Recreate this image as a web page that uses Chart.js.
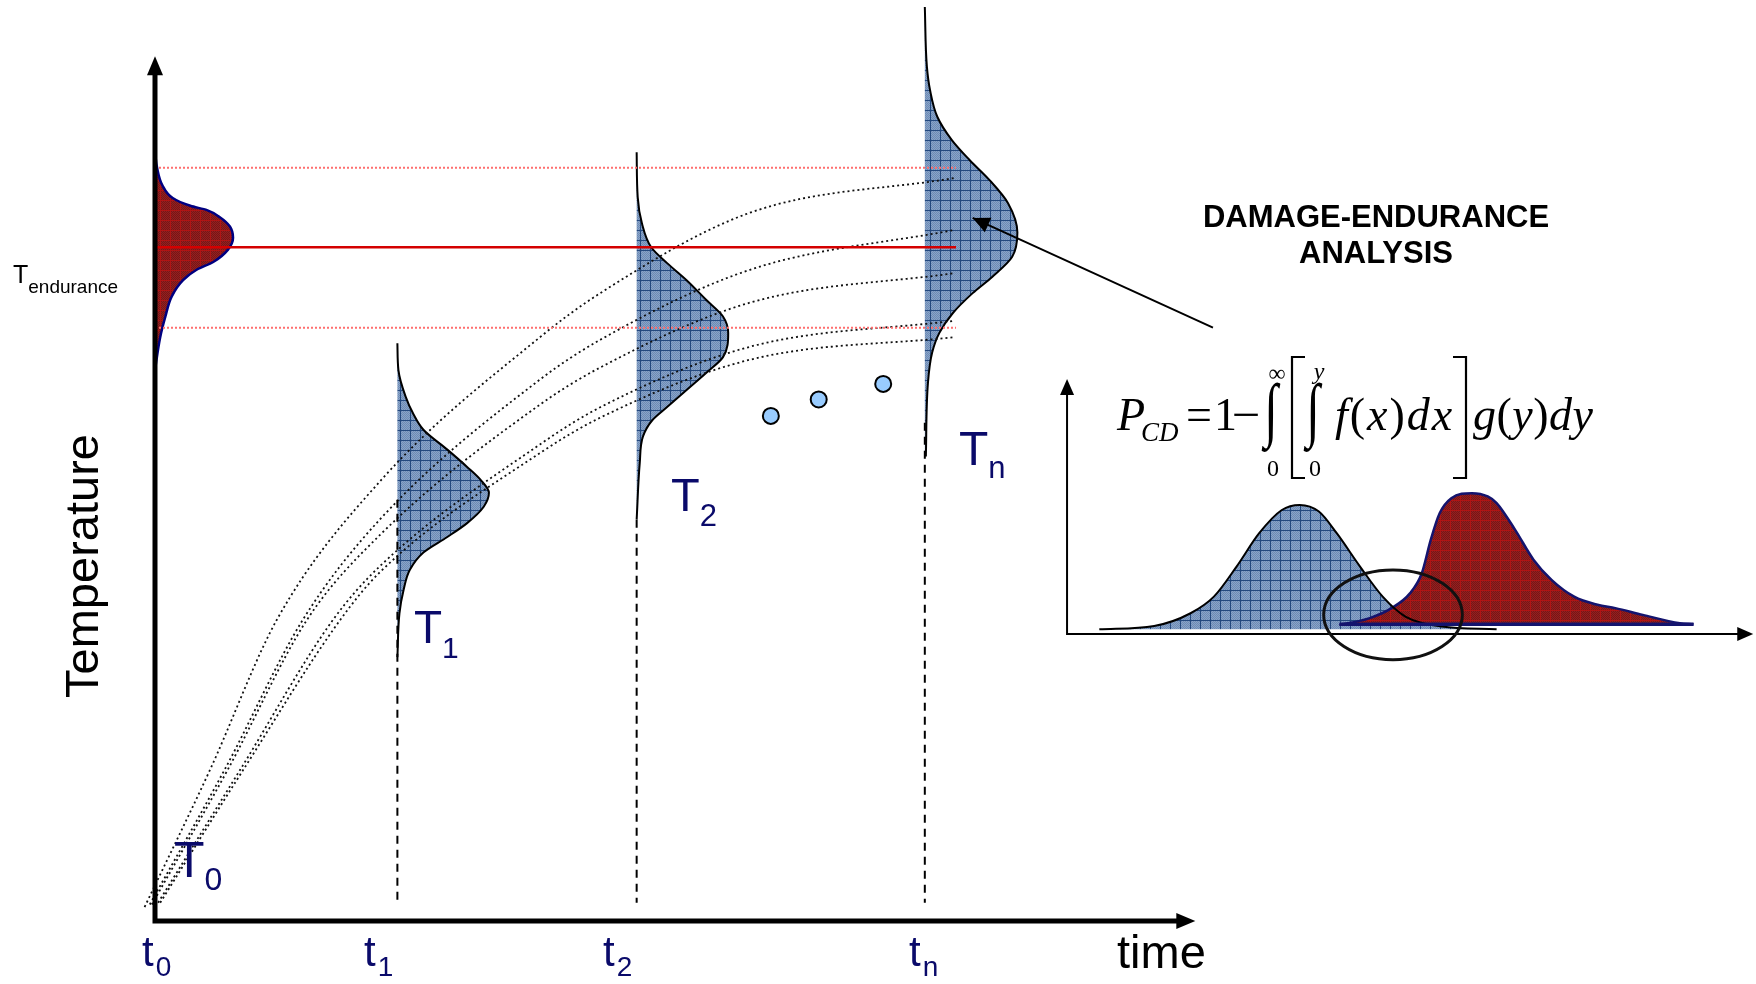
<!DOCTYPE html>
<html>
<head>
<meta charset="utf-8">
<title>Damage-endurance analysis</title>
<script src="https://cdn.jsdelivr.net/npm/chart.js@4.4.1/dist/chart.umd.min.js"></script>
<style>
  html, body { margin: 0; padding: 0; background: #ffffff; }
  #diagram { display: block; }
</style>
</head>
<body>
<canvas id="diagram" width="1756" height="984"></canvas>
<script>
// Main diagram units: time 0 = t0, 100 = arrow tip; temperature 0 = origin, 100 = arrow tip
const timeSubs = ["0", "1", "2", "n"];
const timeMarks = [0, 23.3, 46.3, 74.0];
const dropTops = [48.7, 46.4, 57.6];
const dropBottom = 2.1;

// Endurance distribution drawn on the temperature axis
const enduranceTemps = [88.9, 87.1, 85.1, 83.6, 82.7, 82.2, 81.4, 80.3, 79.0, 77.6, 76.2, 75.3, 74.1, 72.2, 69.9, 67.5, 63.7];
const enduranceSpread = [0, 0.2, 0.7, 1.7, 3.4, 5.0, 6.2, 7.2, 7.5, 7.0, 5.6, 4.0, 2.7, 1.6, 1.0, 0.5, 0];
const enduranceMean = 77.9;
const enduranceLimits = [87.1, 68.6];
const limitEnd = 77;

// Temperature distributions at t1, t2, tn
const t1Temps = [66.8, 63.7, 60.6, 58.7, 56.8, 54.5, 52.5, 51.0, 49.5, 47.9, 46.0, 44.4, 42.6, 40.6, 38.3, 35.6, 30.5];
const t1Spread = [0, 0.1, 0.8, 1.5, 2.5, 4.8, 6.7, 8.0, 8.8, 8.3, 6.7, 4.8, 2.5, 1.2, 0.6, 0.2, 0];
const t2Temps = [88.9, 83.7, 80.7, 77.9, 76.1, 74.1, 71.8, 69.9, 68.0, 65.2, 63.4, 61.4, 59.4, 57.9, 56.0, 53.0, 46.4];
const t2Spread = [0, 0.1, 0.5, 1.4, 2.9, 4.8, 6.7, 8.3, 8.8, 8.3, 6.7, 4.8, 2.9, 1.5, 0.6, 0.3, 0];
const tnTemps = [105.7, 98.8, 96.1, 93.0, 90.3, 88.0, 85.7, 83.0, 79.6, 76.8, 74.5, 72.6, 70.3, 68.0, 65.7, 62.2, 53.7];
const tnSpread = [0, 0.2, 0.5, 1.2, 2.6, 4.3, 6.2, 8.0, 8.9, 8.4, 6.5, 4.6, 2.7, 1.4, 0.7, 0.3, 0.1];

// Heating paths (dotted)
const pathTimes = [
  [-1.0, 5.3, 11.7, 21.6, 37.0, 42.8, 57.2, 76.8],
  [-0.5, 6.7, 14.2, 21.6, 37.0, 42.8, 57.2, 76.8],
  [-0.3, 7.0, 14.6, 21.6, 37.0, 42.8, 57.2, 76.8],
  [0.3, 8.2, 17.1, 21.6, 37.0, 42.8, 57.2, 76.8],
  [0.5, 8.5, 17.8, 21.6, 37.0, 42.8, 57.2, 76.8]
];
const pathTemps = [
  [1.6, 17.5, 34.8, 50.8, 67.5, 72.6, 81.9, 85.9],
  [1.9, 17.5, 34.8, 46.4, 62.6, 67.2, 75.3, 79.9],
  [1.9, 17.5, 34.8, 44.6, 59.7, 64.0, 71.5, 74.9],
  [2.1, 17.5, 34.8, 41.0, 55.1, 59.4, 66.4, 69.4],
  [2.1, 17.5, 34.8, 40.3, 54.1, 58.2, 64.9, 67.5]
];

// "..." dots between t2 and tn
const dotTimes = [59.2, 63.8, 70.0];
const dotTemps = [58.4, 60.3, 62.1];

// pointer from the inset to Tn
const pointerTimes = [101.7, 78.6];
const pointerTemps = [68.6, 81.3];

// Inset: damage (blue) and endurance (red) densities, 0..100 on both axes
const damageX = [4.7, 12.7, 18.0, 21.4, 24.7, 28.0, 31.3, 33.9, 36.7, 39.3, 42.7, 46.0, 49.3, 54.6, 62.6];
const damageY = [1.8, 3.1, 8.1, 14.6, 26.4, 39.5, 48.6, 50.6, 48.0, 39.5, 26.4, 14.6, 6.8, 2.9, 1.8];
const enduranceX = [39.7, 44.0, 47.3, 50.0, 51.7, 53.0, 54.3, 56.0, 59.0, 61.3, 62.6, 65.3, 68.0, 70.6, 73.9, 77.3, 79.9, 83.9, 89.3, 91.3];
const enduranceY = [3.5, 6.1, 10.1, 16.0, 23.8, 36.9, 47.3, 53.2, 55.2, 53.9, 51.3, 40.8, 29.0, 21.2, 14.6, 11.4, 10.1, 7.45, 4.2, 3.8];
const damageBase = 1.8;
const enduranceBase = 3.8;
const overlapCenter = [47.5, 7.5];
const overlapRadius = [10.1, 17.6];

const SANS = '"Liberation Sans", Arial, sans-serif';
const SERIF = '"Liberation Serif", "Times New Roman", serif';
const NAVY = '#0a0a6a';

const canvas = document.getElementById('diagram');
const ctx = canvas.getContext('2d');

// cross-hatched fill like the original (grid over a fine checker)
function makePattern(bg, dot, line) {
  const tile = document.createElement('canvas');
  tile.width = 10;
  tile.height = 10;
  const c = tile.getContext('2d');
  c.fillStyle = bg;
  c.fillRect(0, 0, 10, 10);
  c.fillStyle = dot;
  for (let i = 0; i < 10; i++) {
    for (let j = 0; j < 10; j++) {
      if ((i + j) % 2 === 0) c.fillRect(i, j, 1, 1);
    }
  }
  c.fillStyle = line;
  c.fillRect(0, 0, 10, 1);
  c.fillRect(0, 0, 1, 10);
  return ctx.createPattern(tile, 'repeat');
}
const bluePattern = makePattern('#8aa4c8', '#6d8bb5', '#24497f');
const redPattern = makePattern('#902222', '#7a1414', '#b01414');

function sideways(base, temps, spread) {
  return temps.map((T, i) => ({ x: base + spread[i], y: T }));
}
function zip(xs, ys) {
  return xs.map((v, i) => ({ x: v, y: ys[i] }));
}

const datasets = [];

// distributions standing on their time lines
const dists = [
  { base: 0, temps: enduranceTemps, spread: enduranceSpread, fillStyle: redPattern, edge: '#000080', width: 2.5 },
  { base: timeMarks[1], temps: t1Temps, spread: t1Spread, fillStyle: bluePattern, edge: '#000000', width: 2 },
  { base: timeMarks[2], temps: t2Temps, spread: t2Spread, fillStyle: bluePattern, edge: '#000000', width: 2 },
  { base: timeMarks[3], temps: tnTemps, spread: tnSpread, fillStyle: bluePattern, edge: '#000000', width: 2 }
];
dists.forEach(d => {
  const pts = sideways(d.base, d.temps, d.spread);
  datasets.push({
    data: pts,
    indexAxis: 'y',
    borderWidth: 0,
    backgroundColor: d.fillStyle,
    fill: { value: d.base },
    cubicInterpolationMode: 'monotone',
    order: 6
  });
  datasets.push({
    data: pts,
    indexAxis: 'y',
    borderColor: d.edge,
    borderWidth: d.width,
    fill: false,
    cubicInterpolationMode: 'monotone',
    order: 3
  });
});

// dashed drop lines to t1, t2, tn
dropTops.forEach((top, i) => {
  const t = timeMarks[i + 1];
  datasets.push({
    data: [{ x: t, y: top }, { x: t, y: dropBottom }],
    borderColor: '#000',
    borderWidth: 2,
    borderDash: [8, 6],
    fill: false,
    order: 2
  });
});

// endurance mean and limits
datasets.push({
  data: [{ x: 0, y: enduranceMean }, { x: limitEnd, y: enduranceMean }],
  borderColor: '#d40000', borderWidth: 2.5, fill: false, order: 2
});
enduranceLimits.forEach(v => {
  datasets.push({
    data: [{ x: 0, y: v }, { x: limitEnd, y: v }],
    borderColor: '#ff6f6f', borderWidth: 2, borderDash: [2, 2], fill: false, order: 2
  });
});

// heating paths
pathTimes.forEach((xs, i) => {
  datasets.push({
    data: zip(xs, pathTemps[i]),
    borderColor: '#111',
    borderWidth: 1.8,
    borderDash: [2, 3],
    fill: false,
    cubicInterpolationMode: 'monotone',
    order: 2
  });
});

// dots
datasets.push({
  data: zip(dotTimes, dotTemps),
  showLine: false,
  pointRadius: 8,
  pointBackgroundColor: '#99ccff',
  pointBorderColor: '#000',
  pointBorderWidth: 2,
  order: 1
});

// pointer
datasets.push({
  data: zip(pointerTimes, pointerTemps),
  borderColor: '#000', borderWidth: 2, fill: false, order: 1
});

// inset densities
datasets.push({
  data: zip(damageX, damageY), xAxisID: 'xi', yAxisID: 'yi',
  borderWidth: 0, backgroundColor: bluePattern, fill: { value: damageBase },
  cubicInterpolationMode: 'monotone', order: 6
});
datasets.push({
  data: zip(enduranceX, enduranceY), xAxisID: 'xi', yAxisID: 'yi',
  borderColor: '#14146e', borderWidth: 2.5, backgroundColor: redPattern, fill: { value: enduranceBase },
  cubicInterpolationMode: 'monotone', order: 5
});
datasets.push({
  data: zip(damageX, damageY), xAxisID: 'xi', yAxisID: 'yi',
  borderColor: '#000', borderWidth: 2, fill: false,
  cubicInterpolationMode: 'monotone', order: 3
});
datasets.push({
  data: [{ x: enduranceX[0], y: enduranceBase }, { x: enduranceX[enduranceX.length - 1], y: enduranceBase }],
  xAxisID: 'xi', yAxisID: 'yi',
  borderColor: '#14146e', borderWidth: 3.5, fill: false, order: 2
});

function arrowHead(c, x1, y1, x2, y2, len, half) {
  const a = Math.atan2(y2 - y1, x2 - x1);
  const bx = x2 - len * Math.cos(a), by = y2 - len * Math.sin(a);
  c.beginPath();
  c.moveTo(x2, y2);
  c.lineTo(bx + half * Math.sin(a), by - half * Math.cos(a));
  c.lineTo(bx - half * Math.sin(a), by + half * Math.cos(a));
  c.closePath();
  c.fill();
}

const axesPlugin = {
  id: 'axesPlugin',
  afterDatasetsDraw(chart) {
    const c = chart.ctx;
    const { x, y, xi, yi } = chart.scales;
    c.save();
    c.strokeStyle = '#000';
    c.fillStyle = '#000';

    // main axes
    const ox = x.getPixelForValue(0), oy = y.getPixelForValue(0);
    const ex = x.getPixelForValue(100), ty = y.getPixelForValue(100);
    c.lineWidth = 5;
    c.beginPath();
    c.moveTo(ox, oy + 2.5);
    c.lineTo(ox, ty + 14);
    c.moveTo(ox - 2.5, oy);
    c.lineTo(ex - 14, oy);
    c.stroke();
    arrowHead(c, ox, oy, ox, ty, 19, 8);
    arrowHead(c, ox, oy, ex, oy, 19, 8);

    // inset axes
    const ix = xi.getPixelForValue(0), iy = yi.getPixelForValue(0);
    const iex = xi.getPixelForValue(100), ity = yi.getPixelForValue(100);
    c.lineWidth = 2;
    c.beginPath();
    c.moveTo(ix, iy + 1);
    c.lineTo(ix, ity + 10);
    c.moveTo(ix - 1, iy);
    c.lineTo(iex - 10, iy);
    c.stroke();
    arrowHead(c, ix, iy, ix, ity, 16, 7);
    arrowHead(c, ix, iy, iex, iy, 16, 7);

    // pointer head
    arrowHead(c,
      x.getPixelForValue(pointerTimes[0]), y.getPixelForValue(pointerTemps[0]),
      x.getPixelForValue(pointerTimes[1]), y.getPixelForValue(pointerTemps[1]), 17, 8);

    // overlap ellipse
    const cx = xi.getPixelForValue(overlapCenter[0]);
    const cy = yi.getPixelForValue(overlapCenter[1]);
    const rx = xi.getPixelForValue(overlapCenter[0] + overlapRadius[0]) - cx;
    const ry = cy - yi.getPixelForValue(overlapCenter[1] + overlapRadius[1]);
    c.lineWidth = 3;
    c.strokeStyle = '#111';
    c.beginPath();
    c.ellipse(cx, cy, rx, ry, 0, 0, Math.PI * 2);
    c.stroke();
    c.restore();
  }
};

function subText(c, main, sub, x, y, size, subSize, drop, gap) {
  c.font = size + 'px ' + SANS;
  c.fillText(main, x, y);
  const w = c.measureText(main).width;
  c.font = subSize + 'px ' + SANS;
  c.fillText(sub, x + w + (gap || 0), y + drop);
}

function runs(c, pieces, x, y, spacing) {
  pieces.forEach(([text, italic, size]) => {
    c.font = (italic ? 'italic ' : '') + size + 'px ' + SERIF;
    c.fillText(text, x, y);
    x += c.measureText(text).width + spacing;
  });
  return x;
}

// tall, thin integral sign fitted between top and bottom
function integral(c, cx, top, bottom) {
  c.font = '100px ' + SERIF;
  const m = c.measureText('\u222B');
  const h = m.actualBoundingBoxAscent + m.actualBoundingBoxDescent;
  const s = (bottom - top) / h;
  c.save();
  c.translate(cx, top);
  c.scale(0.7 * s, s);
  const mid = (m.actualBoundingBoxRight - m.actualBoundingBoxLeft) / 2;
  c.fillText('\u222B', -m.actualBoundingBoxRight + mid, m.actualBoundingBoxAscent);
  c.restore();
}

function centered(c, text, cx, y, font) {
  c.font = font;
  c.textAlign = 'center';
  c.fillText(text, cx, y);
  c.textAlign = 'left';
}

const textPlugin = {
  id: 'textPlugin',
  afterDraw(chart) {
    const c = chart.ctx;
    c.save();
    c.textBaseline = 'alphabetic';

    // axis titles
    c.fillStyle = '#000';
    c.save();
    c.translate(98, 566);
    c.rotate(-Math.PI / 2);
    c.font = '47px ' + SANS;
    c.textAlign = 'center';
    c.fillText('Temperature', 0, 0);
    c.restore();
    c.font = '47px ' + SANS;
    c.fillText('time', 1117, 968);
    subText(c, 'T', 'endurance', 13, 283, 25, 19, 10, 0);

    // time marks
    c.fillStyle = NAVY;
    const tX = [142, 364, 603, 909];
    timeSubs.forEach((s, i) => subText(c, 't', s, tX[i], 966, 42, 28, 10, 2));

    // distribution names
    subText(c, 'T', '0', 174, 877, 50, 32, 13, 0);
    subText(c, 'T', '1', 414, 643, 46, 30, 15, 0);
    subText(c, 'T', '2', 671, 511, 47, 31, 15, 0);
    subText(c, 'T', 'n', 959, 465, 48, 31, 13, 0);

    // inset title
    c.fillStyle = '#000';
    centered(c, 'DAMAGE-ENDURANCE', 1376, 227, 'bold 31px ' + SANS);
    centered(c, 'ANALYSIS', 1376, 263, 'bold 31px ' + SANS);

    // P_CD = 1 - int_0^inf [ int_0^y f(x)dx ] g(y)dy
    runs(c, [['P', true, 46]], 1117, 430, 0);
    runs(c, [['CD', true, 27]], 1141, 441, 0);
    runs(c, [['=', false, 46]], 1186, 430, 0);
    runs(c, [['1', false, 46]], 1214, 430, 0);
    c.save();
    c.translate(1232, 430);
    c.scale(1.1, 1);
    runs(c, [['\u2212', false, 46]], 0, 0, 0);
    c.restore();
    integral(c, 1274, 382, 452);
    centered(c, '\u221E', 1277, 381, '24px ' + SERIF);
    centered(c, '0', 1273, 476, '24px ' + SERIF);
    integral(c, 1316, 382, 452);
    centered(c, 'y', 1319, 379, 'italic 24px ' + SERIF);
    centered(c, '0', 1315, 476, '24px ' + SERIF);
    runs(c, [['f', true, 46], ['(', false, 46], ['x', true, 46], [')', false, 46], ['d', true, 46], ['x', true, 46]], 1335, 430, 2);
    runs(c, [['g', true, 46], ['(', false, 46], ['y', true, 46], [')', false, 46], ['d', true, 46], ['y', true, 46]], 1473, 430, 0.5);

    // brackets
    c.strokeStyle = '#000';
    c.lineWidth = 2.2;
    c.beginPath();
    c.moveTo(1305, 357); c.lineTo(1292, 357); c.lineTo(1292, 478); c.lineTo(1305, 478);
    c.moveTo(1453, 357); c.lineTo(1466, 357); c.lineTo(1466, 478); c.lineTo(1453, 478);
    c.stroke();
    c.restore();
  }
};

new Chart(ctx, {
  type: 'line',
  data: { datasets },
  options: {
    responsive: false,
    maintainAspectRatio: false,
    animation: false,
    events: [],
    layout: { padding: 0, autoPadding: false },
    elements: { point: { radius: 0 }, line: { borderCapStyle: 'butt' } },
    plugins: { legend: { display: false }, tooltip: { enabled: false } },
    scales: {
      x: { type: 'linear', min: -14.9, max: 153.9, display: false, bounds: 'data' },
      y: { type: 'linear', min: -7.3, max: 106.5, display: false, bounds: 'data' },
      xi: { type: 'linear', axis: 'x', min: -155.5, max: 100.4, display: false, bounds: 'data' },
      yi: { type: 'linear', axis: 'y', min: -137.3, max: 248.6, display: false, bounds: 'data' }
    }
  },
  plugins: [axesPlugin, textPlugin]
});
</script>
</body>
</html>
